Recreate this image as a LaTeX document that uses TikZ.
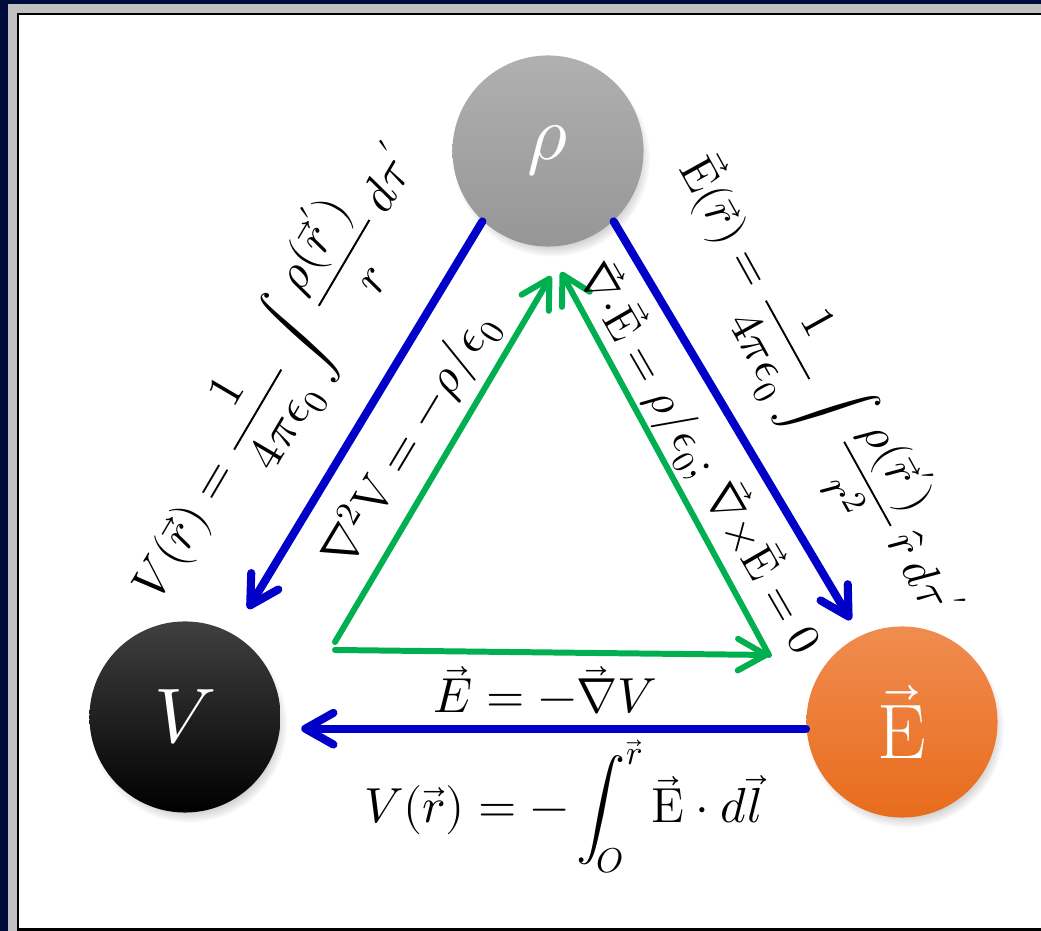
\documentclass[tikz,border=0pt]{standalone}
\usepackage{unicode-math}
\usetikzlibrary{arrows.meta,shadows,fadings}

\definecolor{framenavy}{RGB}{0,12,58}
\definecolor{framegrey}{RGB}{192,192,192}
\definecolor{linkblue}{RGB}{0,0,200}
\definecolor{linkgreen}{RGB}{0,176,80}
\definecolor{rhotop}{RGB}{176,176,176}
\definecolor{rhobot}{RGB}{150,150,150}
\definecolor{Etop}{RGB}{240,140,80}
\definecolor{Ebot}{RGB}{232,108,28}

\begin{document}
\begin{tikzpicture}[x=0.01cm, y=-0.01cm,
    field/.style={circle, minimum size=1.91cm, inner sep=0pt, text=white,
        font=\fontsize{22}{24}\selectfont,
        circular drop shadow={shadow xshift=1pt, shadow yshift=-2pt, shadow scale=1.03, opacity=0.45}},
    bluelink/.style={linkblue, line width=2.3pt, line cap=round,
        -{Straight Barb[length=8pt, width=9pt, round]}},
    greenlink/.style={linkgreen, line width=1.7pt, line cap=round,
        -{Straight Barb[length=8pt, width=9pt, round]}},
    eqn/.style={font=\fontsize{14}{16}\selectfont, inner sep=0pt}]
    \useasboundingbox (0,0) rectangle (1041,931);

    % Frame
    \fill[framenavy] (0,0) rectangle (1041,931);
    \fill[framegrey] (8,4) rectangle (1041,931);
    \fill[black] (17,13) rectangle (1041,931);
    \fill[white] (19,15) rectangle (1041,928);

    % Charge, potential, field
    \node[field, top color=rhotop, bottom color=rhobot] (rho) at (548,151) {$\rho$};
    \node[field, top color=black!75, bottom color=black] (V) at (185,717) {$V$};
    \node[field, top color=Etop, bottom color=Ebot] (E) at (902,722) {$\vec{\mathrm{E}}$};

    % Blue links
    \draw[bluelink, shorten >=0.29cm] (rho.227) -- (V.60);
    \draw[bluelink, shorten >=0.18cm] (rho.313) -- (E.116);
    \draw[bluelink, shorten >=0.2cm] (E.184) -- (V.east |- E.184);

    % Green links
    \coordinate (gVup) at (335,642);
    \coordinate (gVlow) at (335,650);
    \coordinate (gE) at (769,655);
    \coordinate (gRhoL) at (551,276);
    \coordinate (gRhoR) at (561,272);
    \draw[greenlink] (gVup) -- (gRhoL);
    \draw[greenlink] (gE) -- (gRhoR);
    \draw[greenlink] (gVlow) -- (gE);

    % Labels
    \node[eqn, rotate=59.5] (lblVrho) at (276,373)
        {$\displaystyle V(\vec r) = \frac{1}{4\pi\epsilon_0}\int\frac{\rho(\vec r')}{\mathscr{r}}\,d\tau'$};
    \node[eqn, rotate=-61, font=\fontsize{13.5}{16}\selectfont] (lblErho) at (818,389)
        {$\displaystyle \vec{\mathrm{E}}(\vec r) = \frac{1}{4\pi\epsilon_0}\int\frac{\rho(\vec r')}{\mathscr{r}^2}\,\hat{\mathscr{r}}\,d\tau'$};
    \node[eqn, rotate=59] (lblLapl) at (410,440) {$\nabla^2\mathrm{V} = -\rho/\epsilon_0$};
    \node[eqn, rotate=-60, font=\fontsize{13}{15}\selectfont] (lblDiv) at (700,458)
        {$\vec\nabla{\cdot}\vec{\mathrm{E}} = \rho/\epsilon_0;\,\vec\nabla{\times}\vec{\mathrm{E}} = 0$};
    \node[eqn, anchor=base] (lblGrad) at (545,713) {$\vec E = -\vec\nabla V$};
    \node[eqn, anchor=base] (lblPot) at (563,823)
        {$\displaystyle V(\vec r) = -\int_{O}^{\vec r}\vec{\mathrm{E}}\cdot d\vec l$};
\end{tikzpicture}
\end{document}
